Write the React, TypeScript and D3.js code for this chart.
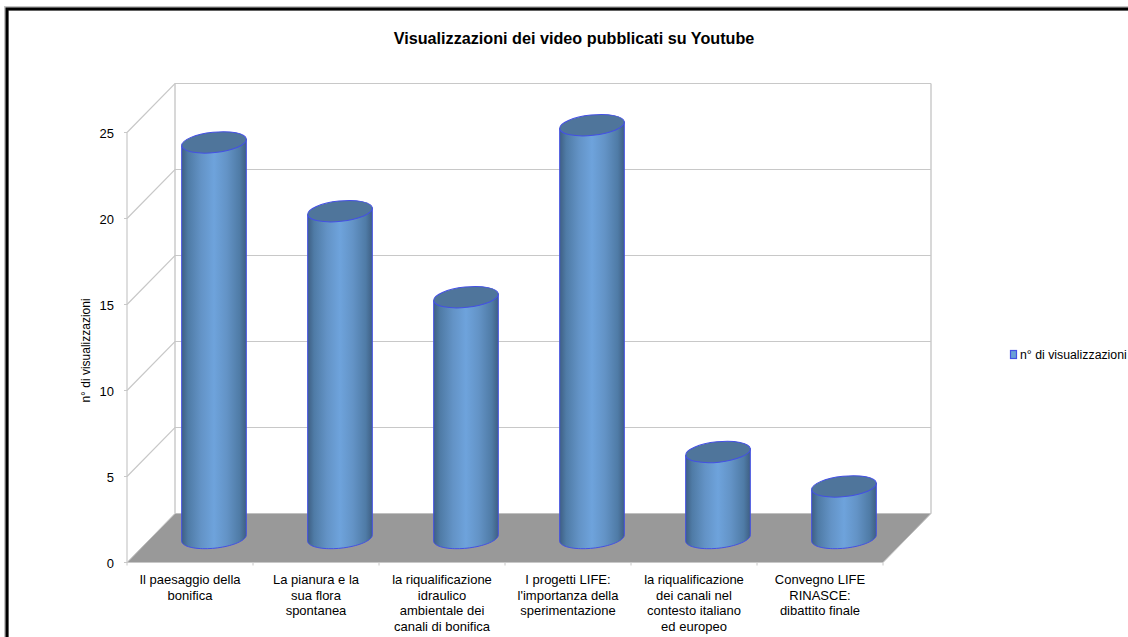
import React, { useMemo } from "react";
import * as d3 from "d3";

const categories = [
  ["Il paesaggio della", "bonifica"],
  ["La pianura e la", "sua flora", "spontanea"],
  ["la riqualificazione", "idraulico", "ambientale dei", "canali di bonifica"],
  ["I progetti LIFE:", "l'importanza della", "sperimentazione"],
  ["la riqualificazione", "dei canali nel", "contesto italiano", "ed europeo"],
  ["Convegno LIFE", "RINASCE:", "dibattito finale"],
];
const values = [23, 19, 14, 24, 5, 3];
const yTicks = [0, 5, 10, 15, 20, 25];
const titleText = "Visualizzazioni dei video pubblicati su Youtube";
const yTitle = "n° di visualizzazioni";
const legendText = "n° di visualizzazioni";

const W = 1128, H = 637;
const FONT = "'Liberation Sans', Arial, sans-serif";
const DX = 48, DY = -49;
const LABEL = 13;
const GRID = "#c8c8c8";
const EDGE = "#4450e4";

export default function App() {
  const x = useMemo(() => d3.scaleBand<number>().domain(d3.range(categories.length)).range([127, 883]), []);
  const y = useMemo(() => d3.scaleLinear().domain([0, 25]).range([562.5, 132.5]), []);
  const rx = 32.5, ry = 10.2, rot = -6;
  const a = (rot * Math.PI) / 180;
  const arcT = d3.range(0, 41).map((k) => Math.PI - (k / 40) * Math.PI);

  const wallLine = d3.line<[number, number]>();
  return (
    <svg width={W} height={H} style={{ position: "fixed", left: 0, top: 0, display: "block", background: "#fff" }} fontFamily={FONT}>
      <defs>
        <linearGradient id="cyl" x1="0" x2="1" y1="0" y2="0">
          <stop offset="0" stopColor="#3e5f83" />
          <stop offset="0.1" stopColor="#4f7ba6" />
          <stop offset="0.3" stopColor="#6393c6" />
          <stop offset="0.5" stopColor="#6ea3dc" />
          <stop offset="0.7" stopColor="#6393c6" />
          <stop offset="0.9" stopColor="#4f7ba6" />
          <stop offset="1" stopColor="#3e5f83" />
        </linearGradient>
      </defs>
      <rect x={6.5} y={8.5} width={1125} height={640} fill="none" stroke="#c4c4c4" strokeWidth={5} />
      <rect x={7} y={9} width={1125} height={640} fill="none" stroke="#000" strokeWidth={3} />

      {/* floor */}
      <path
        d={wallLine([
          [x.range()[0], y(0)],
          [x.range()[0] + DX, y(0) + DY],
          [x.range()[1] + DX, y(0) + DY],
          [x.range()[1], y(0)],
        ]) + "Z"}
        fill="#999999"
        stroke="#c0c0c0"
      />
      {/* back wall grid */}
      {yTicks.filter((t) => t > 0).map((t) => (
        <path key={t} fill="none" stroke={GRID} strokeWidth={1.2}
          d={wallLine([[x.range()[0], y(t)], [x.range()[0] + DX, y(t) + DY], [x.range()[1] + DX, y(t) + DY]]) as string} />
      ))}
      <path d={wallLine([[x.range()[0] + DX, y(25) + DY], [x.range()[0] + DX, y(0) + DY]]) as string} stroke={GRID} strokeWidth={1.4} fill="none" />
      <path d={wallLine([[x.range()[1] + DX, y(25) + DY], [x.range()[1] + DX, y(0) + DY]]) as string} stroke={GRID} strokeWidth={1.4} fill="none" />
      {/* axes */}
      <path d={`M${x.range()[0]},${y(25)}V${y(0)}`} stroke={GRID} strokeWidth={1.2} fill="none" />
      <path d={`M${x.range()[0]},${y(0)}H${x.range()[1]}`} stroke={GRID} strokeWidth={1.2} fill="none" />
      {yTicks.map((t) => (
        <g key={t}>
          <path d={`M${x.range()[0] - 3},${y(t)}H${x.range()[0]}`} stroke={GRID} fill="none" />
          <text x={114} y={y(t) + 5} textAnchor="end" fontSize={LABEL} fill="#000">{t}</text>
        </g>
      ))}
      {d3.range(categories.length + 1).map((i) => {
        const px = i < categories.length ? (x(i) as number) : x.range()[1];
        return <path key={i} d={`M${px},${y(0)}v3`} stroke={GRID} fill="none" />;
      })}

      {/* cylinders */}
      {values.map((v, i) => {
        const cx = (x(i) as number) + x.bandwidth() / 2 + DX / 2;
        const yb = y(0) + DY / 2;
        const yt = y(v) + DY / 2;
        const ex = rx * Math.cos(a), ey = rx * Math.sin(a);
        const arc = arcT.map((t): [number, number] => [
          cx + rx * Math.cos(t) * Math.cos(a) - ry * Math.sin(t) * Math.sin(a),
          yb + rx * Math.cos(t) * Math.sin(a) + ry * Math.sin(t) * Math.cos(a),
        ]);
        const outline: [number, number][] = [[cx - ex, yt - ey], ...arc, [cx + ex, yt + ey]];
        return (
          <g key={i}>
            <path d={wallLine(outline) + "Z"} fill="url(#cyl)" stroke={EDGE} strokeWidth={1} />
            <ellipse cx={cx} cy={yt} rx={rx} ry={ry} transform={`rotate(${rot} ${cx} ${yt})`} fill="#4f759b" stroke={EDGE} strokeWidth={1} />
          </g>
        );
      })}

      {/* category labels */}
      {categories.map((lines, i) => (
        <text key={i} textAnchor="middle" fontSize={LABEL} fill="#000">
          {lines.map((l, j) => (
            <tspan key={j} x={(x(i) as number) + x.bandwidth() / 2} y={584 + j * 15.6}>{l}</tspan>
          ))}
        </text>
      ))}

      <text x={574} y={44} textAnchor="middle" fontSize={16.2} fontWeight="bold" fill="#000">{titleText}</text>
      <text transform="translate(89.5,350.5) rotate(-90)" textAnchor="middle" fontSize={12} fill="#000">{yTitle}</text>

      {/* legend */}
      <rect x={1010.5} y={350.5} width={6} height={8} fill="#6a9fd6" stroke={EDGE} strokeWidth={1.2} />
      <text x={1020} y={358.5} fontSize={12.3} fill="#000">{legendText}</text>
    </svg>
  );
}
